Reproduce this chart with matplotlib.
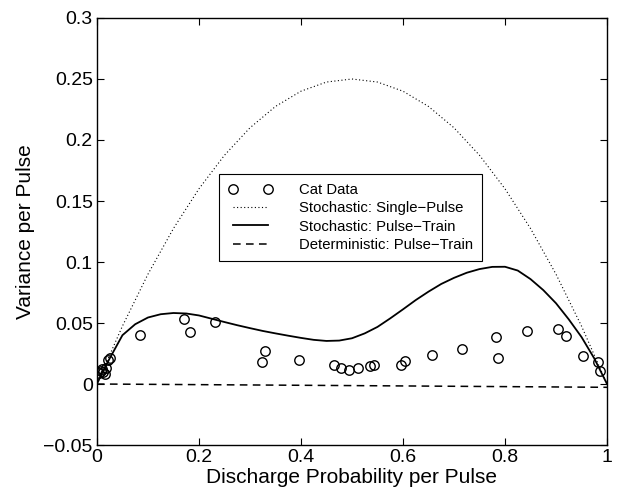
import matplotlib
matplotlib.use("Agg")
import matplotlib.pyplot as plt
from matplotlib.ticker import FixedLocator, FixedFormatter

plt.rcParams['font.family'] = ['Liberation Sans', 'DejaVu Sans']

# Cat data
cat_x = [0.005, 0.008, 0.010, 0.012, 0.015, 0.018, 0.022, 0.026,
         0.084, 0.171, 0.183, 0.232, 0.323, 0.329, 0.397, 0.464, 0.478,
         0.495, 0.512, 0.535, 0.543, 0.597, 0.603, 0.656, 0.715, 0.783,
         0.786, 0.844, 0.903, 0.920, 0.952, 0.982, 0.986]
cat_y = [0.009, 0.011, 0.012, 0.0095, 0.008, 0.013, 0.020, 0.021,
         0.040, 0.0536, 0.043, 0.0505, 0.0183, 0.0273, 0.020, 0.0153, 0.0131,
         0.0117, 0.0131, 0.015, 0.0158, 0.0153, 0.0191, 0.0238, 0.0287, 0.0385,
         0.0213, 0.0432, 0.0451, 0.039, 0.0227, 0.0178, 0.0104]

# Stochastic single-pulse
single_x = [0.0, 0.05, 0.1, 0.15, 0.2, 0.25, 0.3, 0.35, 0.4, 0.45, 0.5,
            0.55, 0.6, 0.65, 0.7, 0.75, 0.8, 0.85, 0.9, 0.95, 1.0]
single_y = [0.0, 0.0475, 0.09, 0.1275, 0.16, 0.1875, 0.21, 0.2275, 0.24, 0.2475, 0.25,
            0.2475, 0.24, 0.2275, 0.21, 0.1875, 0.16, 0.1275, 0.09, 0.0475, 0.0]

# Stochastic pulse-train (solid curve)
train_x = [0.0, 0.01, 0.025, 0.05, 0.075, 0.1, 0.125, 0.15, 0.175, 0.2, 0.225,
           0.25, 0.275, 0.3, 0.325, 0.35, 0.375, 0.4, 0.425, 0.45, 0.475, 0.5,
           0.525, 0.55, 0.575, 0.6, 0.625, 0.65, 0.675, 0.7, 0.725, 0.75,
           0.775, 0.8, 0.825, 0.85, 0.875, 0.9, 0.925, 0.95, 0.975, 1.0]
train_y = [0.0, 0.009, 0.021, 0.040, 0.049, 0.0545, 0.0572, 0.0582, 0.0578, 0.0562, 0.0535,
           0.0508, 0.0482, 0.0458, 0.0435, 0.0415, 0.0396, 0.0378, 0.0362, 0.0353, 0.0356, 0.0375,
           0.0415, 0.0468, 0.0538, 0.0612, 0.0688, 0.0757, 0.0820, 0.0870, 0.0912, 0.0942,
           0.0960, 0.0961, 0.0930, 0.0860, 0.0770, 0.0662, 0.0530, 0.0385, 0.0210, 0.0]

# Deterministic pulse-train (dashed)
det_x = [0.0, 0.5, 1.0]
det_y = [0.0, -0.0013, -0.0027]

xticks = [0, 0.2, 0.4, 0.6, 0.8, 1]
xticklabels = ['0', '0.2', '0.4', '0.6', '0.8', '1']
yticks = [-0.05, 0, 0.05, 0.1, 0.15, 0.2, 0.25, 0.3]
yticklabels = ['\u22120.05', '0', '0.05', '0.1', '0.15', '0.2', '0.25', '0.3']

fig = plt.figure(figsize=(6.42, 4.97), dpi=100)
ax = fig.add_axes([0.151, 0.1046, 0.7945, 0.8592])

ax.plot(cat_x, cat_y, linestyle='none', marker='o', markersize=6.8,
        markerfacecolor='none', markeredgecolor='black', markeredgewidth=1.0,
        label='Cat Data')
ax.plot(single_x, single_y, color='black', linestyle=(0, (1, 2.2)), linewidth=0.8,
        label='Stochastic: Single\u2212Pulse')
ax.plot(train_x, train_y, color='black', linestyle='-', linewidth=1.3,
        label='Stochastic: Pulse\u2212Train')
ax.plot(det_x, det_y, color='black', linestyle=(0, (5, 3.5)), linewidth=1.1,
        label='Deterministic: Pulse\u2212Train')

ax.set_xlim(0, 1)
ax.set_ylim(-0.05, 0.3)
ax.xaxis.set_major_locator(FixedLocator(xticks))
ax.xaxis.set_major_formatter(FixedFormatter(xticklabels))
ax.yaxis.set_major_locator(FixedLocator(yticks))
ax.yaxis.set_major_formatter(FixedFormatter(yticklabels))
ax.tick_params(direction='in', length=5, width=0.8, top=True, right=True,
               labelsize=14, pad=3)
for s in ax.spines.values():
    s.set_linewidth(1.0)

ax.set_xlabel('Discharge Probability per Pulse', fontsize=15, labelpad=1)
ax.set_ylabel('Variance per Pulse', fontsize=15, labelpad=6)

leg = ax.legend(loc='upper left', bbox_to_anchor=(0.24, 0.635), numpoints=2,
                fontsize=10.7, frameon=True, fancybox=False, framealpha=1,
                edgecolor='black', handlelength=3.0, handletextpad=1.75,
                borderpad=0.6, labelspacing=0.3, borderaxespad=0)
leg.get_frame().set_linewidth(0.8)

fig.savefig('out.png', dpi=100)
